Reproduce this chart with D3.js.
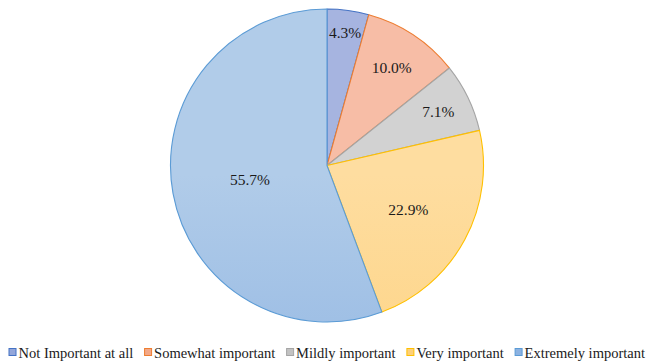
<!DOCTYPE html>
<html>
<head>
<meta charset="utf-8">
<script src="https://cdn.jsdelivr.net/npm/d3@7"></script>
<style>
  html, body { margin: 0; padding: 0; background: #fff; }
  svg { display: block; }
  svg text { font-family: "Liberation Serif", "Times New Roman", Times, "DejaVu Serif", serif; }
</style>
</head>
<body>
<svg id="chart" width="649" height="361"></svg>
<script>
// Importance ratings, share of respondents (%)
const categories = ["Not Important at all", "Somewhat important", "Mildly important", "Very important", "Extremely important"];
const values = [4.3, 10.0, 7.1, 22.9, 55.7];
const valueLabels = ["4.3%", "10.0%", "7.1%", "22.9%", "55.7%"];

// Slice styling: outline colour plus a light-to-dark vertical fill
const strokeColors = ["#4472c4", "#ed7d31", "#a5a5a5", "#ffc000", "#5b9bd5"];
const fillTop = ["#a6b4e0", "#f7bda6", "#d2d2d2", "#fedda0", "#b1cce9"];
const fillBottom = ["#93a6da", "#f3a887", "#c2c2c2", "#fdd07a", "#8cb2e1"];
// Where each label sits along its slice's bisector, as a fraction of the radius
const labelRadius = [0.86, 0.75, 0.79, 0.59, 0.5];

const svg = d3.select("#chart");
const cx = 327, cy = 165.5, r = 156.5;

const defs = svg.append("defs");
categories.forEach((c, i) => {
  const g = defs.append("linearGradient")
    .attr("id", "grad" + i)
    .attr("gradientUnits", "userSpaceOnUse")
    .attr("x1", 0).attr("y1", cy - r)
    .attr("x2", 0).attr("y2", cy + r);
  g.append("stop").attr("offset", "0%").attr("stop-color", fillTop[i]);
  g.append("stop").attr("offset", "100%").attr("stop-color", fillBottom[i]);
});

const pie = d3.pie().sort(null).value(d => d)(values);
const arc = d3.arc().innerRadius(0).outerRadius(r);

const g = svg.append("g").attr("transform", `translate(${cx},${cy})`);

g.selectAll("path.slice")
  .data(pie)
  .join("path")
  .attr("class", "slice")
  .attr("d", arc)
  .attr("fill", (d, i) => `url(#grad${i})`)
  .attr("stroke", (d, i) => strokeColors[i])
  .attr("stroke-width", 1.1)
  .attr("stroke-linejoin", "round");

g.selectAll("text.val")
  .data(pie)
  .join("text")
  .attr("class", "val")
  .attr("transform", (d, i) => {
    const a = (d.startAngle + d.endAngle) / 2;
    const rr = r * labelRadius[i];
    return `translate(${rr * Math.sin(a)},${-rr * Math.cos(a)})`;
  })
  .attr("text-anchor", "middle")
  .attr("dy", "0.35em")
  .attr("font-size", 15.5)
  .attr("fill", "#1a1a1a")
  .text((d, i) => valueLabels[i]);

// Legend along the bottom, spread across the chart width
const legend = svg.append("g").attr("transform", "translate(0,352.5)");
const items = legend.selectAll("g.item")
  .data(categories)
  .join("g")
  .attr("class", "item");

items.append("rect")
  .attr("x", 0).attr("y", -4)
  .attr("width", 7).attr("height", 7)
  .attr("fill", (d, i) => fillBottom[i])
  .attr("stroke", (d, i) => strokeColors[i])
  .attr("stroke-width", 1);

items.append("text")
  .attr("x", 9.5)
  .attr("dy", "0.35em")
  .attr("font-size", 14.5)
  .attr("fill", "#1a1a1a")
  .text(d => d);

const widths = [];
items.each(function () {
  widths.push(9.5 + d3.select(this).select("text").node().getComputedTextLength());
});
const left = 9, right = 645;
const gap = (right - left - d3.sum(widths)) / (categories.length - 1);
let x = left;
items.each(function (d, i) {
  d3.select(this).attr("transform", `translate(${x},0)`);
  x += widths[i] + gap;
});
</script>
</body>
</html>
